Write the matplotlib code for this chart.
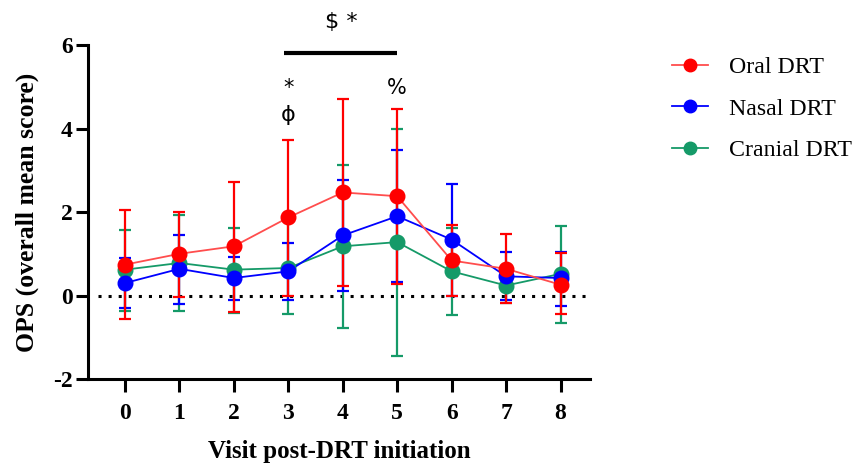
import matplotlib
matplotlib.use("Agg")
import matplotlib.pyplot as plt
import numpy as np

visits = [0, 1, 2, 3, 4, 5, 6, 7, 8]

oral_mean = [0.74, 1.00, 1.18, 1.87, 2.47, 2.38, 0.84, 0.64, 0.26]
oral_upper = [2.04, 2.00, 2.73, 3.73, 4.71, 4.47, 1.70, 1.48, 1.02]
oral_lower = [-0.56, -0.03, -0.40, 0.00, 0.22, 0.28, -0.02, -0.19, -0.45]

nasal_mean = [0.30, 0.64, 0.42, 0.58, 1.44, 1.90, 1.34, 0.46, 0.42]
nasal_upper = [0.90, 1.44, 0.92, 1.26, 2.78, 3.49, 2.68, 1.04, 1.04]
nasal_lower = [-0.30, -0.20, -0.10, -0.11, 0.12, 0.33, 0.00, -0.11, -0.24]

cranial_mean = [0.62, 0.78, 0.62, 0.66, 1.18, 1.28, 0.58, 0.24, 0.52]
cranial_upper = [1.58, 1.94, 1.61, 1.78, 3.13, 4.00, 1.62, 0.70, 1.66]
cranial_lower = [-0.36, -0.36, -0.41, -0.44, -0.77, -1.44, -0.47, -0.17, -0.65]

series = [
    ("Cranial DRT", cranial_mean, cranial_lower, cranial_upper, "#159a68", "#159a68"),
    ("Nasal DRT", nasal_mean, nasal_lower, nasal_upper, "#0000ff", "#0000ff"),
    ("Oral DRT", oral_mean, oral_lower, oral_upper, "#ff0000", "#ff4d4d"),
]

plt.rcParams['font.family'] = ['Liberation Serif', 'DejaVu Serif']

fig = plt.figure(figsize=(8.59, 4.67), dpi=100)
ax = fig.add_axes([0.1024, 0.1884, 0.585, 0.715])

ax.axhline(0, color="black", linestyle=(0, (1, 2.3)), linewidth=2.2, zorder=1,
           xmin=0.02, xmax=1.0)

handles = {}
for name, mean, lo, hi, col, lcol in series:
    m = np.array(mean)
    yerr = [m - np.array(lo), np.array(hi) - m]
    ax.errorbar(visits, m, yerr=yerr, fmt="none", ecolor=col, elinewidth=1.6,
                capsize=4.5, capthick=1.6, zorder=2)
    ax.plot(visits, m, color=lcol, linewidth=1.3, zorder=3)
    ax.plot(visits, m, linestyle="none", marker="o", markersize=10.5,
            color=col, zorder=4)
    h, = ax.plot([], [], color=lcol, linewidth=1.3, marker="o", markersize=9,
                 markerfacecolor=col, markeredgecolor=col)
    handles[name] = h

ax.set_xlim(-0.68, 8.55)
ax.set_ylim(-2, 6)
ax.set_xticks(visits)
ax.set_yticks([-2, 0, 2, 4, 6])
ax.set_yticklabels(["-2", "0", "2", "4", "6"])

for s in ["top", "right"]:
    ax.spines[s].set_visible(False)
for s in ["left", "bottom"]:
    ax.spines[s].set_linewidth(2.2)
ax.tick_params(axis="both", length=9, width=2.2, labelsize=17)
ax.tick_params(axis="x", pad=8)
ax.tick_params(axis="y", pad=2)
for lbl in ax.get_xticklabels() + ax.get_yticklabels():
    lbl.set_fontweight("bold")

ax.set_xlabel("Visit post-DRT initiation", fontsize=18, fontweight="bold", labelpad=12)
ax.set_ylabel("OPS (overall mean score)", fontsize=18.5, fontweight="bold", labelpad=10)

# significance annotations
ax.plot([2.92, 5.0], [5.81, 5.81], color="black", linewidth=3, clip_on=False,
        solid_capstyle="butt")
ax.text(3.98, 6.55, "$ *", ha="center", va="center", fontsize=16,
        family=["DejaVu Sans"], clip_on=False)
ax.text(3.0, 4.98, "*", ha="center", va="center", fontsize=15,
        family=["DejaVu Sans"])
ax.text(3.0, 4.33, "ϕ", ha="center", va="center", fontsize=16,
        family=["DejaVu Sans"])
ax.text(5.0, 4.98, "%", ha="center", va="center", fontsize=15,
        family=["DejaVu Sans"])

order = ["Oral DRT", "Nasal DRT", "Cranial DRT"]
fig.legend([handles[n] for n in order], order, loc="upper left",
           bbox_to_anchor=(0.757, 0.925), frameon=False, fontsize=17.2,
           handlelength=1.5, labelspacing=0.82, handletextpad=0.9)

fig.savefig("out.png", dpi=100)
